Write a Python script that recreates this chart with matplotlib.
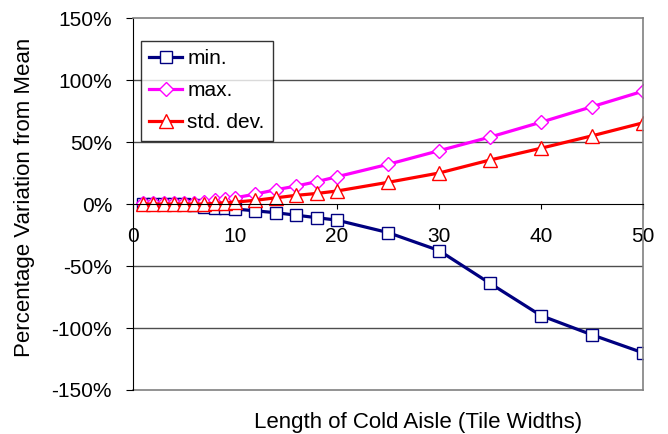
import matplotlib.pyplot as plt
from matplotlib.ticker import PercentFormatter

plt.rcParams['font.family'] = ['Liberation Sans', 'DejaVu Sans']
plt.rcParams['axes.unicode_minus'] = False

# cold aisle length (tile widths)
x = [1, 2, 3, 4, 5, 6, 7, 8, 9, 10, 12, 14, 16, 18, 20, 25, 30, 35, 40, 45, 50]

# percentage variation from mean
v_min = [0, 0, 0, 0, 0, -0.5, -2.5, -3, -3.5, -4, -5.5, -7, -9, -11, -13,
         -23, -37.5, -64, -90, -105.5, -120]
v_max = [0.5, 0.5, 0.5, 0.5, 0.5, 1, 2, 3, 4, 5, 8, 11.5, 14.5, 18, 22,
         32, 43, 54, 66, 78.5, 91]
v_std = [0, 0, 0, 0, 0, 0, 0, 0.5, 1, 1.5, 3, 5, 7, 8.5, 10.5,
         17.5, 25, 35.5, 45, 55, 65.5]

fig = plt.figure(figsize=(6.68, 4.34), dpi=100)
ax = fig.add_axes([0.199, 0.1014, 0.7636, 0.857])

ax.plot(x, v_min, color='#000080', lw=2.3, marker='s', ms=8.5,
        mfc='white', mec='#000080', mew=1, label='min.')
ax.plot(x, v_max, color='#FF00FF', lw=2.3, marker='D', ms=7,
        mfc='white', mec='#FF00FF', mew=1, label='max.')
ax.plot(x, v_std, color='#FF0000', lw=2.3, marker='^', ms=9.5,
        mfc='white', mec='#FF0000', mew=1, label='std. dev.')

ax.set_xlim(0, 50)
ax.set_ylim(-150, 150)
ax.set_xticks([0, 10, 20, 30, 40, 50])
ax.set_yticks([-150, -100, -50, 0, 50, 100, 150])
ax.yaxis.set_major_formatter(PercentFormatter(decimals=0))

for yv in [-100, -50, 50, 100]:
    ax.axhline(yv, color='0.3', lw=1, zorder=0)

ax.spines['left'].set_position(('data', 0))
ax.spines['left'].set_color('black')
ax.spines['bottom'].set_position(('data', 0))
ax.spines['bottom'].set_color('black')
ax.spines['top'].set_color('0.5')
ax.spines['right'].set_color('0.5')
ax.spines['top'].set_linewidth(1.2)
ax.spines['right'].set_linewidth(1.2)
# bottom frame line of the plot area
ax.plot([0, 50], [-150, -150], color='0.5', lw=1.2, clip_on=False, zorder=0)

ax.tick_params(axis='x', direction='out', length=3.6, labelsize=15, pad=13)
ax.tick_params(axis='y', direction='out', length=5, labelsize=15, pad=10)

fig.text(418 / 668, 6 / 434, 'Length of Cold Aisle (Tile Widths)',
         fontsize=16, ha='center', va='baseline')
fig.text(25 / 668, 1 - 197 / 434, 'Percentage Variation from Mean',
         fontsize=16, ha='center', va='center', rotation=90)

leg = ax.legend(loc='upper left', bbox_to_anchor=(0.015, 0.938), fontsize=15,
                frameon=True, fancybox=False, edgecolor='black',
                handlelength=1.6, handletextpad=0.25, borderpad=0.4,
                labelspacing=0.62, borderaxespad=0)
leg.get_frame().set_linewidth(1)

fig.savefig('out.png', dpi=100)
